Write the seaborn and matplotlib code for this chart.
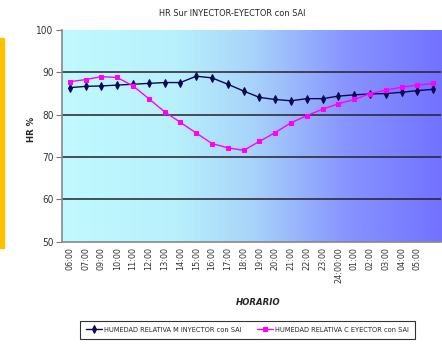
import numpy as np
import pandas as pd
import matplotlib as mpl
mpl.use('Agg')
import matplotlib.pyplot as plt
from matplotlib.colors import LinearSegmentedColormap
from matplotlib.patches import Rectangle
import seaborn as sns

hours = ['06:00', '07:00', '09:00', '10:00', '11:00', '12:00', '13:00', '14:00',
         '15:00', '16:00', '17:00', '18:00', '19:00', '20:00', '21:00', '22:00',
         '23:00', '24:00:00', '01:00', '02:00', '03:00', '04:00', '05:00', '']
hr_inyector = [86.4, 86.7, 86.8, 87.0, 87.2, 87.4, 87.6, 87.6, 89.1, 88.7, 87.2, 85.6,
               84.1, 83.6, 83.3, 83.8, 83.8, 84.4, 84.7, 84.9, 85.0, 85.3, 85.7, 86.0]
hr_eyector = [87.8, 88.3, 89.0, 88.8, 86.8, 83.8, 80.7, 78.2, 75.7, 73.2, 72.2, 71.6,
              73.7, 75.8, 78.1, 79.8, 81.3, 82.6, 83.6, 85.0, 85.8, 86.5, 87.0, 87.4]
series_names = ['HUMEDAD RELATIVA M INYECTOR con SAI', 'HUMEDAD RELATIVA C EYECTOR con SAI']

sns.set_style('white')
plt.rcParams['font.family'] = ['Liberation Sans Narrow', 'DejaVu Sans']
plt.rcParams['font.stretch'] = 'condensed'

fig = plt.figure(figsize=(4.42, 3.49), dpi=100)
ax = fig.add_axes([0.140, 0.307, 0.858, 0.607])

# gradient background like the Excel plot area
cmap = LinearSegmentedColormap.from_list('bg', [(0.0, '#C0FAFF'), (0.3, '#B8F0FC'),
                                                (0.5, '#A8D4FA'), (0.75, '#8894FF'),
                                                (1.0, '#7272FF')])
ax.imshow(np.linspace(0, 1, 256).reshape(1, -1), cmap=cmap, aspect='auto',
          extent=[-0.5, len(hours) - 0.5, 50, 100], zorder=0)

df = pd.DataFrame({'pos': np.arange(len(hours)), 'inyector': hr_inyector, 'eyector': hr_eyector})
for yv in [60, 70, 80, 90]:
    ax.axhline(yv, color='#22222e', lw=1.1, zorder=1)
sns.lineplot(data=df, x='pos', y='inyector', ax=ax, color='#0a0a50', lw=1.0,
             marker='d', markersize=4, markeredgecolor='#0a0a50', label=series_names[0], zorder=3)
sns.lineplot(data=df, x='pos', y='eyector', ax=ax, color='#FF00FF', lw=1.0,
             marker='s', markersize=3.2, markeredgecolor='#FF00FF', label=series_names[1], zorder=3)

ax.set_xlim(-0.5, len(hours) - 0.5)
ax.set_ylim(50, 100)
ax.set_yticks([50, 60, 70, 80, 90, 100])
ax.set_yticklabels(['50', '60', '70', '80', '90', '100'], fontsize=7.2, color='#333333')
ax.set_xticks(np.arange(len(hours)))
ax.set_xticklabels(hours, rotation=90, fontsize=6.5, family='DejaVu Sans', color='#333333')
ax.set_xticks(np.arange(len(hours) + 1) - 0.5, minor=True)
ax.tick_params(axis='x', which='major', length=0, pad=4)
ax.tick_params(axis='x', which='minor', length=4, color='#777777', direction='out')
ax.tick_params(axis='y', length=4, color='#777777', direction='out', left=True, pad=2)
for s in ['top', 'right']:
    ax.spines[s].set_visible(False)
for s in ['left', 'bottom']:
    ax.spines[s].set_color('#888888')
    ax.spines[s].set_linewidth(1.2)

ax.set_xlabel('HORARIO', fontsize=6.8, fontweight='bold', fontstyle='italic')
ax.xaxis.set_label_coords(0.517, -0.264)
ax.set_ylabel('HR %', fontsize=6.8, fontweight='bold')
ax.yaxis.set_label_coords(-0.069, 0.53)
ax.set_title('HR Sur INYECTOR-EYECTOR con SAI', fontsize=6.6, x=0.45, pad=10)

leg = ax.legend(loc='upper center', bbox_to_anchor=(0.489, -0.355), ncol=2, fontsize=5.3,
                frameon=True, fancybox=False, edgecolor='black', handlelength=2.2,
                columnspacing=2.0, borderpad=0.8, handletextpad=0.3)
leg.get_frame().set_linewidth(0.8)

# orange edge of the neighbouring chart at the left border
fig.patches.append(Rectangle((0, 0.29), 0.008, 0.60, transform=fig.transFigure,
                             color='#FFC000', zorder=5))

fig.savefig('out.png', dpi=100)
